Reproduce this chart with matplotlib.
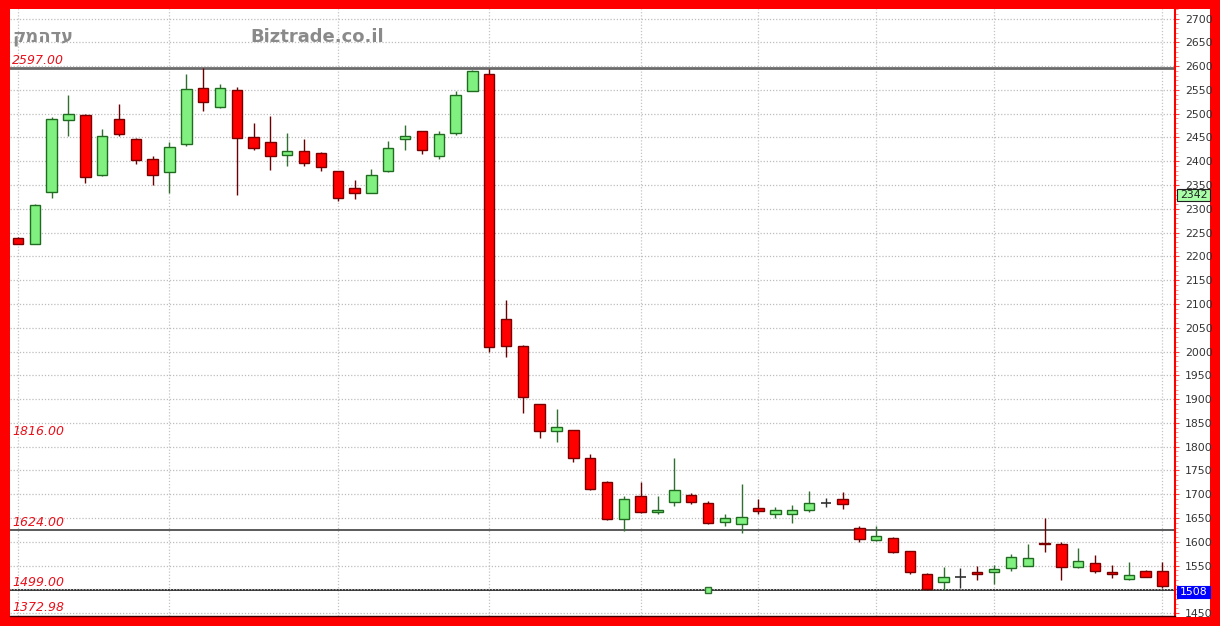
import matplotlib
matplotlib.use("Agg")
import matplotlib.pyplot as plt
import matplotlib.transforms as mtransforms
from matplotlib.patches import Rectangle
from matplotlib.ticker import MultipleLocator

# ---------------- data ----------------
opens  = [2239, 2227, 2336, 2486, 2498, 2370, 2489, 2447, 2404, 2377,
          2437, 2554, 2513, 2549, 2450, 2440, 2414, 2422, 2418, 2379,
          2344, 2334, 2380, 2447, 2463, 2412, 2459, 2548, 2584, 2068,
          2012, 1889, 1832, 1834, 1776, 1726, 1647, 1696, 1662, 1683,
          1699, 1682, 1641, 1638, 1670, 1659, 1659, 1666, 1682, 1690,
          1628, 1603, 1609, 1580, 1533, 1515, 1527, 1537, 1537, 1545,
          1550, 1598, 1596, 1546, 1556, 1537, 1521, 1539, 1539]
highs  = [2240, 2310, 2493, 2540, 2500, 2467, 2521, 2448, 2412, 2440,
          2584, 2596, 2563, 2556, 2481, 2495, 2460, 2446, 2419, 2380,
          2361, 2384, 2442, 2477, 2464, 2463, 2547, 2591, 2594, 2108,
          2013, 1890, 1880, 1835, 1784, 1727, 1696, 1725, 1696, 1776,
          1703, 1686, 1659, 1722, 1690, 1673, 1678, 1707, 1693, 1705,
          1634, 1634, 1610, 1581, 1534, 1548, 1545, 1549, 1552, 1575,
          1595, 1649, 1599, 1586, 1573, 1551, 1557, 1540, 1558]
lows   = [2225, 2226, 2322, 2454, 2355, 2368, 2453, 2394, 2349, 2334,
          2432, 2505, 2511, 2328, 2423, 2381, 2389, 2391, 2379, 2316,
          2320, 2333, 2377, 2423, 2415, 2405, 2456, 2548, 1999, 1989,
          1871, 1818, 1809, 1768, 1709, 1646, 1623, 1661, 1659, 1675,
          1680, 1638, 1634, 1619, 1659, 1650, 1640, 1662, 1673, 1668,
          1599, 1601, 1577, 1532, 1499, 1498, 1503, 1519, 1512, 1539,
          1549, 1579, 1519, 1545, 1535, 1524, 1520, 1525, 1502]
closes = [2226, 2309, 2489, 2500, 2367, 2454, 2458, 2403, 2370, 2430,
          2552, 2524, 2554, 2449, 2427, 2410, 2422, 2396, 2388, 2322,
          2334, 2372, 2428, 2452, 2423, 2457, 2539, 2589, 2009, 2011,
          1904, 1832, 1841, 1776, 1711, 1647, 1689, 1663, 1666, 1708,
          1684, 1640, 1650, 1653, 1665, 1666, 1666, 1681, 1682, 1680,
          1605, 1613, 1579, 1537, 1500, 1527, 1527, 1533, 1543, 1568,
          1566, 1596, 1546, 1559, 1538, 1533, 1531, 1527, 1508]

grid_x_idx = [0, 9, 19, 28, 37, 44, 51, 58, 68]
level_lines = [2597, 1624, 1499]
level_labels = ["2597.00", "1816.00", "1624.00", "1499.00", "1372.98"]
level_label_vals = [2597, 1816, 1624, 1499, 1447]
y_ticks = list(range(1450, 2701, 50))
marker_idx, marker_val = 41, 1499
last_close = 1508
green_tag = 2342
title_he = "קמהדע"
site = "Biztrade.co.il"

# ---------------- figure ----------------
W, H = 1220, 626
fig = plt.figure(figsize=(W / 100, H / 100), dpi=100, facecolor="#ff0000")

# white inner panel (plot + right axis area)
fig.add_artist(Rectangle((10 / W, 9 / H), 1200 / W, 608 / H,
                         transform=fig.transFigure, facecolor="white",
                         edgecolor="none", zorder=-5))

ax = fig.add_axes([10 / W, 10 / H, 1165 / W, 607 / H])
ax.set_facecolor("white")
ax.set_xlim(-0.475, 68.75)
ax.set_ylim(1444, 2720)

# grids
ax.yaxis.tick_right()
ax.set_yticks(y_ticks)
# the last-close tag covers the label nearest to it
ax.set_yticklabels(["" if abs(t - last_close) < 25 else str(t) for t in y_ticks])
ax.yaxis.set_minor_locator(MultipleLocator(10))
ax.grid(axis="y", which="major", linestyle=(0, (1, 1.5)), color="#bdbdbd", lw=0.9)
for gx in grid_x_idx:
    ax.axvline(gx, linestyle=(0, (1, 1.5)), color="#c4c4c4", lw=0.9, zorder=0.5)
ax.set_xticks([])

# level lines
ax.axhline(level_lines[0], color="#6a6a6a", lw=2.0, zorder=1)
ax.axhline(level_lines[1], color="#5a5a5a", lw=1.4, zorder=1)
ax.axhline(level_lines[2], color="#333333", lw=1.4, zorder=1)

# candles
xs = list(range(len(opens)))
w = 0.62
for i in xs:
    o, h, l, c = opens[i], highs[i], lows[i], closes[i]
    if c > o:
        fc, ec, wc = "#80f080", "#1f6b1f", "#2f6f2f"
    elif c < o:
        fc, ec, wc = "#ff0000", "#7a0000", "#6a0000"
    else:
        fc, ec, wc = "#303030", "#303030", "#303030"
    ax.vlines(i, l, h, colors=wc, lw=1.0, zorder=2)
    if c == o:
        ax.hlines(o, i - w / 2, i + w / 2, colors=wc, lw=1.2, zorder=3)
    else:
        ax.bar(i, abs(c - o), bottom=min(o, c), width=w, color=fc,
               edgecolor=ec, linewidth=1.0, zorder=3)

ax.plot(marker_idx, marker_val, "s", ms=5, mfc="#80f080", mec="#2f6f2f",
        mew=1, zorder=4)

# red level labels
tr = mtransforms.blended_transform_factory(ax.transAxes, ax.transData)
for lab, v in zip(level_labels, level_label_vals):
    ax.text(0.0017, v + 2, lab, transform=tr, ha="left", va="bottom",
            fontsize=9, fontstyle="italic", color="#e8101a", zorder=5)

# right axis styling
for s in ["left", "top"]:
    ax.spines[s].set_visible(False)
ax.spines["right"].set_color("#ff0000")
ax.spines["right"].set_linewidth(1.5)
ax.spines["bottom"].set_color("#3a0000")
ax.spines["bottom"].set_linewidth(1.0)
ax.tick_params(axis="y", which="major", length=3, color="#ff4040", pad=4,
               labelsize=7.8, labelcolor="#333333")
ax.tick_params(axis="y", which="minor", length=2, color="#ff8080")
ax.tick_params(axis="x", length=0)

# value tags on the right axis
def tag(val, txt, fc, tc):
    hgt = 26
    ax.add_patch(Rectangle((1.0017, val - hgt), 0.0283, hgt, transform=tr,
                           facecolor=fc, edgecolor="#202020" if fc != "#0000ff" else fc,
                           lw=0.8, clip_on=False, zorder=6))
    ax.text(1.0017 + 0.0283 / 2, val - hgt / 2, txt, transform=tr,
            ha="center", va="center", fontsize=7.8, color=tc,
            clip_on=False, zorder=7)

tag(green_tag, str(green_tag), "#a8ffa8", "#222222")
tag(last_close, str(last_close), "#0000ff", "white")

# titles
fig.text(12 / W, 1 - 37 / H, title_he, ha="left", va="center",
         fontsize=13, fontweight="bold", color="#8a8a8a",
         family=["DejaVu Sans"])
fig.text(250 / W, 1 - 37 / H, site, ha="left", va="center",
         fontsize=13, fontweight="bold", color="#8a8a8a",
         family=["DejaVu Sans"])

fig.savefig("out.png", dpi=100, facecolor=fig.get_facecolor())
